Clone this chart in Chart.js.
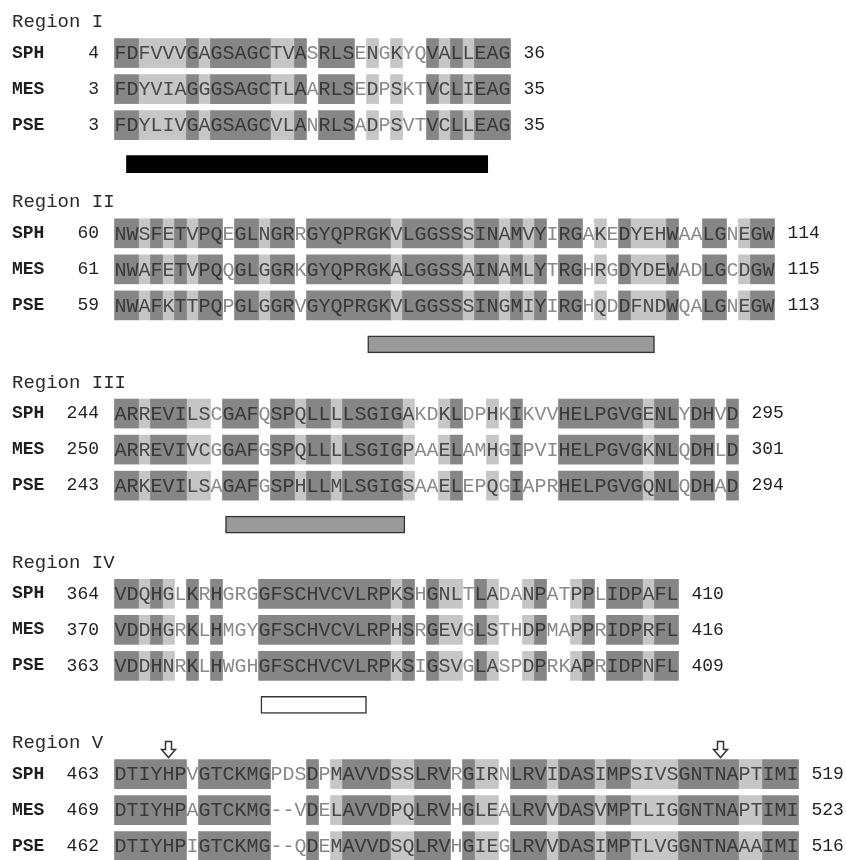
<!DOCTYPE html>
<html>
<head>
<meta charset="utf-8">
<script src="https://cdn.jsdelivr.net/npm/chart.js@4.4.1/dist/chart.umd.min.js"></script>
<style>
  html, body { margin: 0; padding: 0; background: #fff; }
  #wrap { width: 846px; height: 860px; position: relative; }
</style>
</head>
<body>
<div id="wrap"><canvas id="alignChart"></canvas></div>
<script>
// alignment data, one entry per region
const regionNames = ['Region I', 'Region II', 'Region III', 'Region IV', 'Region V'];
const speciesNames = ['SPH', 'MES', 'PSE'];

const startNumbers = [[4, 3, 3], [60, 61, 59], [244, 250, 243], [364, 370, 363], [463, 469, 462]];
const endNumbers = [[36, 35, 35], [114, 115, 113], [295, 301, 294], [410, 416, 409], [519, 523, 516]];

const seqSPH = [
    'FDFVVVGAGSAGCTVASRLSENGKYQVALLEAG',
    'NWSFETVPQEGLNGRRGYQPRGKVLGGSSSINAMVYIRGAKEDYEHWAALGNEGW',
    'ARREVILSCGAFQSPQLLLLSGIGAKDKLDPHKIKVVHELPGVGENLYDHVD',
    'VDQHGLKRHGRGGFSCHVCVLRPKSHGNLTLADANPATPPLIDPAFL',
    'DTIYHPVGTCKMGPDSDPMAVVDSSLRVRGIRNLRVIDASIMPSIVSGNTNAPTIMI'
];
const seqMES = [
    'FDYVIAGGGSAGCTLAARLSEDPSKTVCLIEAG',
    'NWAFETVPQQGLGGRKGYQPRGKALGGSSAINAMLYTRGHRGDYDEWADLGCDGW',
    'ARREVIVCGGAFGSPQLLLLSGIGPAAELAMHGIPVIHELPGVGKNLQDHLD',
    'VDDHGRKLHMGYGFSCHVCVLRPHSRGEVGLSTHDPMAPPRIDPRFL',
    'DTIYHPAGTCKMG--VDELAVVDPQLRVHGLEALRVVDASVMPTLIGGNTNAPTIMI'
];
const seqPSE = [
    'FDYLIVGAGSAGCVLANRLSADPSVTVCLLEAG',
    'NWAFKTTPQPGLGGRVGYQPRGKVLGGSSSINGMIYIRGHQDDFNDWQALGNEGW',
    'ARKEVILSAGAFGSPHLLMLSGIGSAAELEPQGIAPRHELPGVGQNLQDHAD',
    'VDDHNRKLHWGHGFSCHVCVLRPKSIGSVGLASPDPRKAPRIDPNFL',
    'DTIYHPIGTCKMG--QDEMAVVDSQLRVHGIEGLRVVDASIMPTLVGGNTNAAAIMI'
];

// D = identical, L = similar, . = not conserved (one char per column)
const shading = [
    'DDLLLLDLDDDDDLLD.DDD.L.L..DLDLDDD',
    'DDLDLDLDD.DDLDD.DDDDDDDLDDDDDLDDLDLD.DD.L.DLLLD..DD.LDD',
    'DDLDDDLL.DDD.DDLDDLDDDDDL..LD..L.D...DDDDDDDLDD.DD.D',
    'DDLDL.D.D...DDDDDDDDDDDLD.DLL.DL..LD..LD.DDDLDD',
    'DDDDDD.DDDDDD...D.LDDDDLLDDD.DLL.DDDLDDDLDDLLLLDDDDDLLDDD'
];

// motif bars under regions I-IV, in alignment columns
const motifStart = [1, 21.1, 9.25, 12.2];
const motifEnd = [31.1, 45, 24.2, 21];

// arrows above region V
const arrowColumns = [4, 50];

const seqs = [seqSPH, seqMES, seqPSE];

// layout: 12px per column, first column at x=114.5; 5 line units per region
const X0 = 114.5, CW = 12, TOP = 17, UNIT = 36.05;
const W = 846, H = 860;
const rowValue = (r, k) => r * 5 + 1 + k;

function runs(str, ch) {
    const out = [];
    let i = 0;
    while (i < str.length) {
        if (str[i] === ch) {
            let j = i;
            while (j < str.length && str[j] === ch) j++;
            out.push([i, j]);
            i = j;
        } else {
            i++;
        }
    }
    return out;
}

const darkCells = [];
const lightCells = [];
shading.forEach((s, r) => {
    for (let k = 0; k < 3; k++) {
        runs(s, 'D').forEach(seg => darkCells.push({ x: seg, y: rowValue(r, k) }));
        runs(s, 'L').forEach(seg => lightCells.push({ x: seg, y: rowValue(r, k) }));
    }
});
const motifBars = motifStart.map((s, r) => ({ x: [s, motifEnd[r]], y: r * 5 + 4.08 }));
const motifFill = ['#000000', '#9a9a9a', '#9a9a9a', '#ffffff'];

const textPlugin = {
    id: 'alignText',
    afterDatasetsDraw(chart) {
        const ctx = chart.ctx;
        const xs = chart.scales.x, ys = chart.scales.y;
        ctx.save();
        ctx.textBaseline = 'middle';
        regionNames.forEach((name, r) => {
            ctx.font = '19px "Liberation Mono", monospace';
            ctx.fillStyle = '#2a2a2a';
            ctx.textAlign = 'left';
            ctx.fillText(name, 12, ys.getPixelForValue(r * 5 + 0.14));
            for (let k = 0; k < 3; k++) {
                const y = ys.getPixelForValue(rowValue(r, k));
                ctx.font = 'bold 18px "Liberation Mono", monospace';
                ctx.fillStyle = '#1e1e1e';
                ctx.textAlign = 'left';
                ctx.fillText(speciesNames[k], 12, y);
                ctx.font = '18px "Liberation Mono", monospace';
                ctx.textAlign = 'right';
                ctx.fillText(String(startNumbers[r][k]), 99, y);
                const seq = seqs[k][r];
                ctx.font = '20px "Liberation Mono", monospace';
                ctx.textAlign = 'center';
                for (let c = 0; c < seq.length; c++) {
                    const sh = shading[r][c];
                    ctx.fillStyle = sh === 'D' ? '#383838' : (sh === 'L' ? '#484848' : '#8a8a8a');
                    ctx.fillText(seq[c], xs.getPixelForValue(c + 0.5), y + 1);
                }
                ctx.font = '18px "Liberation Mono", monospace';
                ctx.fillStyle = '#1e1e1e';
                ctx.textAlign = 'left';
                ctx.fillText(String(endNumbers[r][k]), xs.getPixelForValue(seq.length) + 13, y);
            }
        });
        // hollow down arrows over region V
        arrowColumns.forEach(col => {
            const cx = xs.getPixelForValue(col + 0.5);
            const cy = ys.getPixelForValue(4 * 5 + 0.32);
            ctx.beginPath();
            ctx.moveTo(cx - 3, cy - 8);
            ctx.lineTo(cx + 3, cy - 8);
            ctx.lineTo(cx + 3, cy);
            ctx.lineTo(cx + 7, cy);
            ctx.lineTo(cx, cy + 8);
            ctx.lineTo(cx - 7, cy);
            ctx.lineTo(cx - 3, cy);
            ctx.closePath();
            ctx.fillStyle = '#fff';
            ctx.fill();
            ctx.strokeStyle = '#333';
            ctx.lineWidth = 1.5;
            ctx.stroke();
        });
        ctx.restore();
    }
};

new Chart(document.getElementById('alignChart').getContext('2d'), {
    type: 'bar',
    data: {
        datasets: [
            {
                label: 'identical',
                data: darkCells,
                backgroundColor: '#868686',
                borderWidth: 0,
                barThickness: 29,
                grouped: false
            },
            {
                label: 'similar',
                data: lightCells,
                backgroundColor: '#c6c6c6',
                borderWidth: 0,
                barThickness: 29,
                grouped: false
            },
            {
                label: 'motif',
                data: motifBars,
                backgroundColor: ctx => motifFill[ctx.dataIndex],
                borderColor: '#333333',
                borderWidth: ctx => ctx.dataIndex === 0 ? 0 : 1.5,
                borderSkipped: false,
                barThickness: 17,
                grouped: false
            }
        ]
    },
    options: {
        indexAxis: 'y',
        responsive: true,
        maintainAspectRatio: false,
        animation: false,
        layout: { padding: 0 },
        plugins: { legend: { display: false }, tooltip: { enabled: false } },
        scales: {
            x: { type: 'linear', display: false, offset: false, min: -X0 / CW, max: (W - X0) / CW },
            y: { type: 'linear', display: false, offset: false, reverse: true, min: -TOP / UNIT, max: (H - TOP) / UNIT }
        }
    },
    plugins: [textPlugin]
});
</script>
</body>
</html>
